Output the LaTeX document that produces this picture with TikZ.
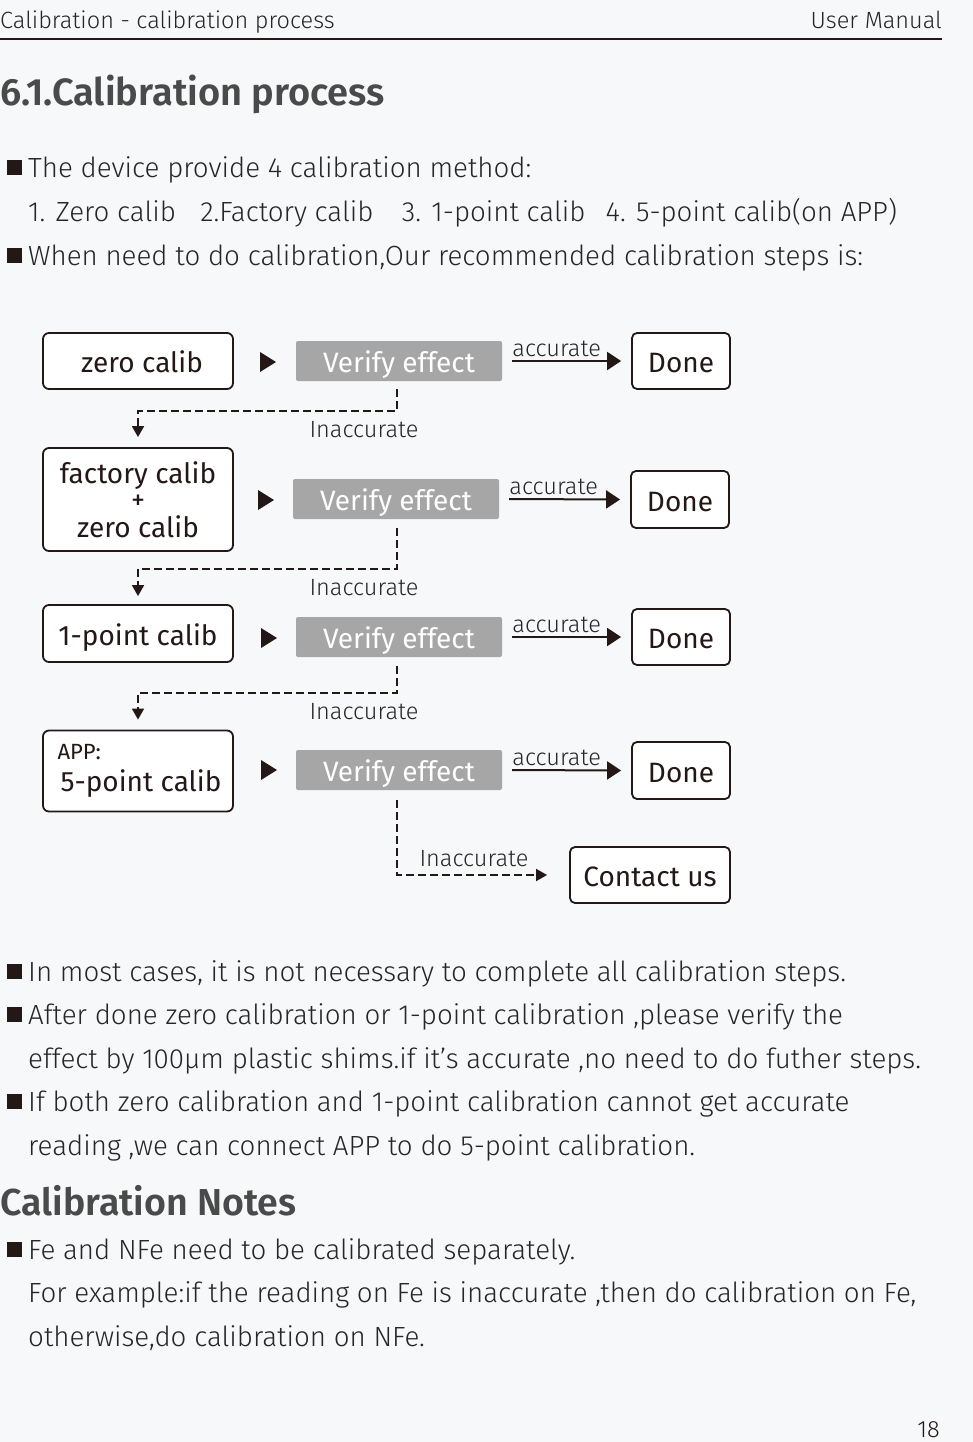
\documentclass[tikz,border=0pt]{standalone}
\usepackage{fontspec}
\setmainfont{Fira Sans Light}[BoldFont={Fira Sans SemiBold}]
\newfontfamily\regfont{Fira Sans}
\usetikzlibrary{arrows.meta,shapes.geometric}
\definecolor{pagebg}{HTML}{F7F8FA}
\definecolor{txt}{HTML}{262626}
\definecolor{headc}{HTML}{4A4A4A}
\definecolor{vgray}{HTML}{A6A6A6}
\definecolor{ink}{HTML}{231815}
\newcommand\bodysize{\fontsize{27.7}{32}\selectfont}
\newcommand\smallsize{\fontsize{23.5}{27}\selectfont}
\newcommand\boxsize{\fontsize{28}{32}\selectfont}
\newcommand\headsize{\fontsize{38}{42}\selectfont}
\tikzset{
  line/.style={anchor=base west,inner sep=0pt,text=txt,font=\bodysize},
  onel/.style={text height=23pt,text depth=0pt},
  calibbox/.style={draw=ink,line width=1.8pt,rounded corners=6pt,fill=white,minimum width=190pt,text=ink,font=\regfont\boxsize,inner sep=0pt,align=center},
  verifybox/.style={fill=vgray,rounded corners=2pt,minimum width=206pt,minimum height=40pt,text=white,font=\regfont\boxsize,inner sep=0pt,text height=22pt,text depth=0pt},
  donebox/.style={draw=ink,line width=1.8pt,rounded corners=5pt,fill=white,minimum width=98pt,minimum height=56pt,text=ink,font=\regfont\boxsize,inner sep=0pt,onel},
  accarrow/.style={draw=ink,line width=2pt,-{Triangle[length=14pt,width=18pt]}},
  inacc/.style={draw=ink,line width=1.8pt,dash pattern=on 8pt off 4pt,-{Triangle[length=11pt,width=12pt]}},
  lbl/.style={text=txt,font=\smallsize,inner sep=0pt},
  bullet/.style={fill=ink},
}
\begin{document}
\begin{tikzpicture}[x=1pt,y=-1pt]
\path[fill=pagebg] (0,0) rectangle (973,1442);
\useasboundingbox (0,0) rectangle (973,1442);
% header
\node[line,font=\smallsize] (h1) at (0,29) {Calibration - calibration process};
\node[anchor=base east,inner sep=0pt,text=txt,font=\smallsize] (h2) at (942,29) {User Manual};
\draw[ink,line width=2pt] (0,39) -- (942,39);
\node[anchor=base west,inner sep=0pt,text=headc,font=\bfseries\headsize] (title) at (0,106) {6.1.Calibration process};
% intro
\fill[bullet] (7,160) rectangle (22,175);
\node[line] (t1) at (28,177.5) {The device provide 4 calibration method:};
\node[line] (t2) at (28,221.5) {1. Zero calib\hspace{0.6em} 2.Factory calib\hspace{0.75em} 3. 1-point calib\hspace{0.45em} 4. 5-point calib(on APP)};
\fill[bullet] (7,248) rectangle (22,263);
\node[line] (t3) at (28,265.5) {When need to do calibration,Our recommended calibration steps is:};
% flowchart row 1
\node[calibbox,onel,minimum height=56pt] (c1) at (138,361) {\hspace{8pt}zero calib};
\node[verifybox] (v1) at (399,361) {Verify effect};
\node[donebox] (d1) at (681,361) {Done};
% row 2
\node[calibbox,minimum height=103pt] (c2) at (138,499.5) {factory calib\\[-6pt]+\\[-4pt]zero calib};
\node[verifybox] (v2) at (396,499) {Verify effect};
\node[donebox,minimum height=57pt] (d2) at (680,499.5) {Done};
% row 3
\node[calibbox,onel,minimum height=57pt] (c3) at (138,633.5) {1-point calib};
\node[verifybox] (v3) at (399,637) {Verify effect};
\node[donebox] (d3) at (681,637) {Done};
% row 4
\node[calibbox,minimum height=81pt,align=left] (c4) at (138,771) {\hspace{3pt}{\fontsize{22}{24}\selectfont APP:}\\[0pt]\hspace{6pt}5-point calib};
\node[verifybox] (v4) at (399,770) {Verify effect};
\node[donebox,minimum height=57pt] (d4) at (681,770.5) {Done};
\node[donebox,minimum width=160pt] (cu) at (650,875) {Contact us};
% small triangles between calib box and verify box
\foreach \r/\y/\xx in {1/362/260,2/500/258,3/638/261,4/770/261}{
  \fill[ink] (\xx,\y-10) -- (\xx+16,\y) -- (\xx,\y+10) -- cycle;
}
% accurate arrows
\foreach \r in {1,2,3,4}{
  \coordinate (s\r) at ([xshift=10pt]v\r.east);
  \draw[accarrow] (s\r) -- ([xshift=-10pt]d\r.west);
  \node[lbl,anchor=base west] (a\r) at ([yshift=5pt]s\r) {accurate};
}
% inaccurate connectors
\coordinate (k1) at (138,411);
\draw[inacc] ([yshift=-8pt]v1.south -| 397,0) -- (397,411) -- (k1) -- ([yshift=10pt]c2.north);
\node[lbl] (i1) at (364,430) {Inaccurate};
\coordinate (k2) at (138,569);
\draw[inacc] ([yshift=-9pt]v2.south -| 397,0) -- (397,569) -- (k2) -- ([yshift=8pt]c3.north);
\node[lbl] (i2) at (364,588) {Inaccurate};
\coordinate (k3) at (138,693);
\draw[inacc] ([yshift=-9pt]v3.south -| 397,0) -- (397,693) -- (k3) -- ([yshift=10pt]c4.north);
\node[lbl] (i3) at (364,712) {Inaccurate};
\coordinate (k4) at (397,875);
\draw[inacc] ([yshift=-10pt]v4.south -| 397,0) -- (k4) -- ([xshift=-22pt]cu.west);
\node[lbl] (i4) at (474,859) {Inaccurate};
% bottom text
\fill[bullet] (7,964) rectangle (22,979);
\node[line] (b1) at (28,981.5) {In most cases, it is not necessary to complete all calibration steps.};
\fill[bullet] (7,1007) rectangle (22,1022);
\node[line] (b2) at (28,1024.5) {After done zero calibration or 1-point calibration ,please verify the};
\node[line] (b3) at (28,1068.5) {effect by 100µm plastic shims.if it's accurate ,no need to do futher steps.};
\fill[bullet] (7,1094) rectangle (22,1109);
\node[line] (b4) at (28,1111.5) {If both zero calibration and 1-point calibration cannot get accurate};
\node[line] (b5) at (28,1155.5) {reading ,we can connect APP to do 5-point calibration.};
\node[anchor=base west,inner sep=0pt,text=headc,font=\bfseries\fontsize{37.5}{42}\selectfont] (notes) at (0,1215) {Calibration Notes};
\fill[bullet] (7,1242) rectangle (22,1257);
\node[line] (n1) at (28,1259.5) {Fe and NFe need to be calibrated separately.};
\node[line] (n2) at (28,1302.5) {For example:if the reading on Fe is inaccurate ,then do calibration on Fe,};
\node[line] (n3) at (28,1346.5) {otherwise,do calibration on NFe.};
\node[anchor=base east,inner sep=0pt,text=ink,font=\smallsize] (pg) at (940,1437) {18};
\end{tikzpicture}
\end{document}
